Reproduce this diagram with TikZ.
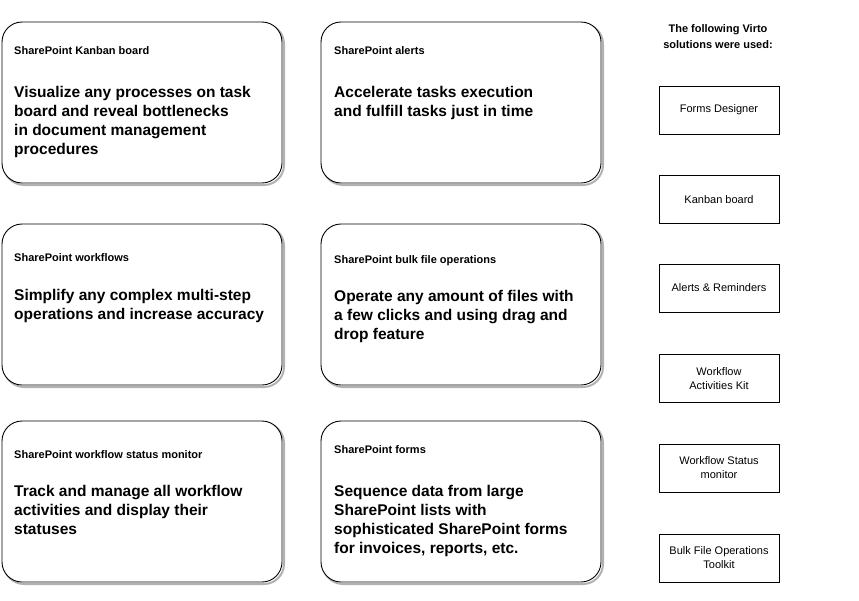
\documentclass[tikz,border=0pt]{standalone}
\usepackage{fontspec}
\setmainfont{Liberation Sans}
\begin{document}
\begin{tikzpicture}[x=1pt,y=-1pt,
  card/.style={draw=black,line width=0.9pt,rounded corners=20pt,fill=white},
  shadow/.style={draw=gray!60,line width=2pt,rounded corners=20pt},
  ttl/.style={anchor=base west,inner sep=0,font=\fontsize{11}{13}\selectfont\bfseries},
  body/.style={anchor=north west,inner sep=0,align=left,font=\fontsize{15.5}{19}\selectfont\bfseries},
  sol/.style={draw=black,line width=0.6pt,minimum width=120pt,minimum height=48pt,align=center,inner sep=1pt,font=\fontsize{11}{14}\selectfont}]
\useasboundingbox (0,0) rectangle (859,600);
\foreach \x in {2,321}{\foreach \y in {22,224,421}{
  \draw[shadow] (\x+2,\y+2) rectangle (\x+282,\y+163);
  \draw[card] (\x,\y) rectangle (\x+280,\y+161);}}
\node[ttl] (t1) at (14,54) {SharePoint Kanban board};
\node[body] (b1) at (14,86) {Visualize any processes on task\\board and reveal bottlenecks\\in document management\\procedures};
\node[ttl] (t2) at (334,54) {SharePoint alerts};
\node[body] (b2) at (334,86) {Accelerate tasks execution\\and fulfill tasks just in time};
\node[ttl] (t3) at (14,261) {SharePoint workflows};
\node[body] (b3) at (14,289) {Simplify any complex multi-step\\operations and increase accuracy};
\node[ttl] (t4) at (334,263) {SharePoint bulk file operations};
\node[body] (b4) at (334,290) {Operate any amount of files with\\a few clicks and using drag and\\drop feature};
\node[ttl] (t5) at (14,458) {SharePoint workflow status monitor};
\node[body] (b5) at (14,485) {Track and manage all workflow\\activities and display their\\statuses};
\node[ttl] (t6) at (334,453) {SharePoint forms};
\node[body] (b6) at (334,485) {Sequence data from large\\SharePoint lists with\\sophisticated SharePoint forms\\for invoices, reports, etc.};
\node[align=center,inner sep=0,font=\fontsize{11}{16}\selectfont\bfseries] (hd) at (718,37) {The following Virto\\solutions were used:};
\node[sol] (s1) at (719,110) {Forms Designer};
\node[sol] (s2) at (719,199.5) {Kanban board};
\node[sol] (s3) at (719,288) {Alerts \& Reminders};
\node[sol] (s4) at (719,378.5) {Workflow\\Activities Kit};
\node[sol] (s5) at (719,468) {Workflow Status\\monitor};
\node[sol] (s6) at (719,558) {Bulk File Operations\\Toolkit};
\end{tikzpicture}
\end{document}
